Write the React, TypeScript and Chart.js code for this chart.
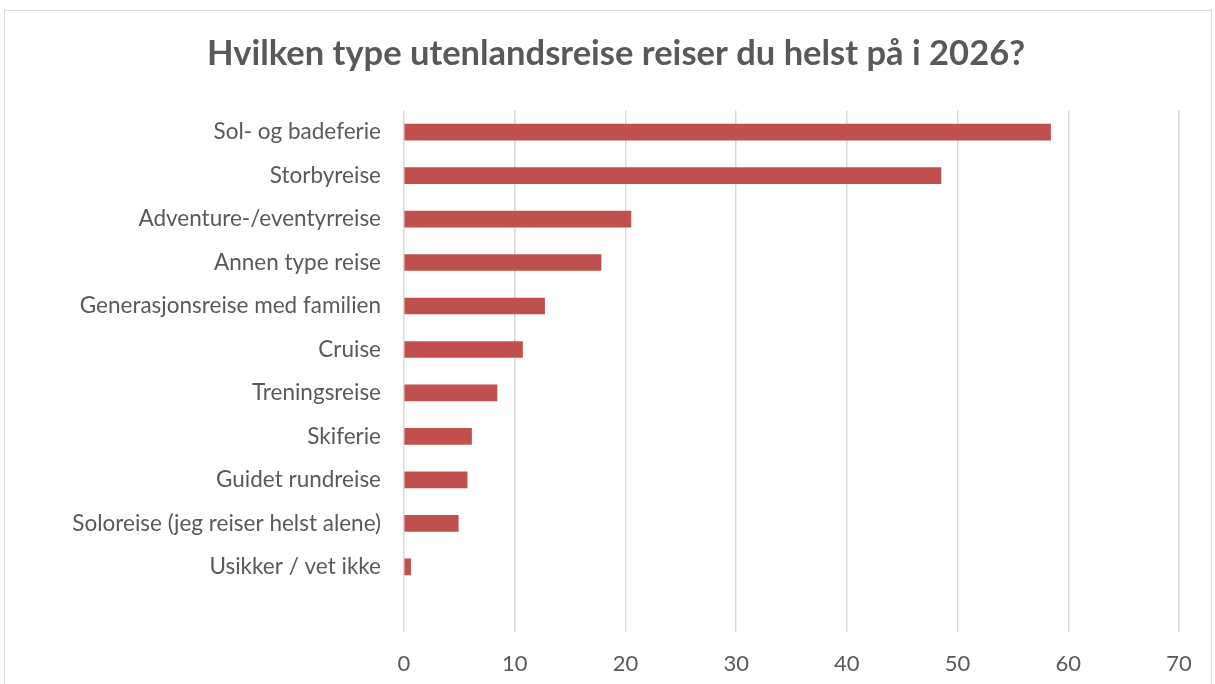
import React, { useEffect, useRef } from "react";
import { Chart, registerables } from "chart.js";

Chart.register(...registerables);

const titleText = "Hvilken type utenlandsreise reiser du helst på i 2026?";
const categories = [
  "Sol- og badeferie",
  "Storbyreise",
  "Adventure-/eventyrreise",
  "Annen type reise",
  "Generasjonsreise med familien",
  "Cruise",
  "Treningsreise",
  "Skiferie",
  "Guidet rundreise",
  "Soloreise (jeg reiser helst alene)",
  "Usikker / vet ikke",
];
const values = [58.4, 48.5, 20.5, 17.8, 12.7, 10.7, 8.4, 6.1, 5.7, 4.9, 0.6];
const xMin = 0;
const xMax = 70;
const xStep = 10;

const FONT = "Lato, 'Open Sans', sans-serif";
const TEXT = "#595959";

export default function App() {
  const ref = useRef<HTMLCanvasElement | null>(null);

  useEffect(() => {
    if (!ref.current) return;
    const chart = new Chart(ref.current, {
      type: "bar",
      data: {
        labels: categories,
        datasets: [
          {
            data: values,
            backgroundColor: "#C0504D",
            borderWidth: 0,
            barThickness: 16,
          },
        ],
      },
      options: {
        indexAxis: "y",
        animation: false,
        responsive: false,
        maintainAspectRatio: false,
        layout: { padding: { left: 53, right: 36, top: 0, bottom: 0 } },
        plugins: {
          legend: { display: false },
          tooltip: { enabled: false },
          title: {
            display: true,
            text: titleText,
            color: TEXT,
            font: { family: FONT, size: 34.5, weight: "bold" },
            padding: { top: 33, bottom: 36 },
          },
        },
        scales: {
          x: {
            min: xMin,
            max: xMax,
            ticks: {
              stepSize: xStep,
              color: TEXT,
              font: { family: FONT, size: 22 },
              padding: 19,
            },
            grid: { color: "#d9d9d9", lineWidth: 1.5, drawTicks: false },
            border: { display: false },
            afterFit: (s: any) => {
              s.height = 52;
            },
          },
          y: {
            ticks: {
              color: TEXT,
              font: { family: FONT, size: 22.5 },
              padding: 23,
            },
            grid: { display: false, drawTicks: false },
            border: { display: false },
            afterBuildTicks: (s: any) => {
              // Excel-style extra empty slot below the last category
              s._valueRange = categories.length + 1;
              s._startValue = -0.5;
            },
            afterFit: (s: any) => {
              s.width = 351;
            },
          },
        },
      },
    });
    return () => chart.destroy();
  }, []);

  return (
    <div
      style={{
        position: "fixed",
        left: 0,
        top: 0,
        width: 1215,
        height: 684,
        overflow: "hidden",
        background: "#fff",
      }}
    >
      <div
        style={{
          position: "absolute",
          left: 4,
          top: 10,
          width: 1206,
          height: 700,
          border: "1.5px solid #d9d9d9",
        }}
      />
      <canvas
        ref={ref}
        width={1215}
        height={684}
        style={{ position: "absolute", left: 0, top: 0 }}
      />
    </div>
  );
}
